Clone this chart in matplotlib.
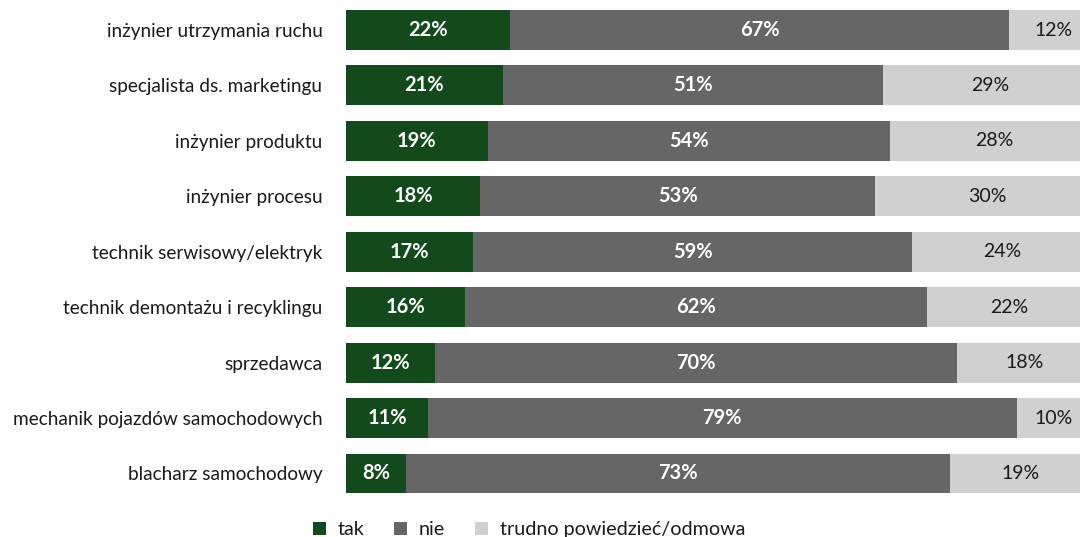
import matplotlib.pyplot as plt
import numpy as np

plt.rcParams["font.family"] = ["Lato", "DejaVu Sans"]

# odsetki odpowiedzi dla poszczególnych zawodów
zawody = [
    "inżynier utrzymania ruchu",
    "specjalista ds. marketingu",
    "inżynier produktu",
    "inżynier procesu",
    "technik serwisowy/elektryk",
    "technik demontażu i recyklingu",
    "sprzedawca",
    "mechanik pojazdów samochodowych",
    "blacharz samochodowy",
]
tak = [22, 21, 19, 18, 17, 16, 12, 11, 8]
nie = [67, 51, 54, 53, 59, 62, 70, 79, 73]
trudno = [12, 29, 28, 30, 24, 22, 18, 10, 19]

serie = ["tak", "nie", "trudno powiedzieć/odmowa"]
kolory = ["#124a1c", "#666666", "#d0d0d0"]

fig = plt.figure(figsize=(10.8, 5.37), dpi=100)
ax = fig.add_axes([0.3204, 0.0667, 0.6796, 0.929])

y = np.arange(len(zawody))
lewo = np.zeros(len(zawody))
for nazwa, wartosci, kolor in zip(serie, [tak, nie, trudno], kolory):
    wartosci = np.array(wartosci, dtype=float)
    ax.barh(y, wartosci, left=lewo, height=0.72, color=kolor, label=nazwa)
    for yi, l, w in zip(y, lewo, wartosci):
        if kolor == kolory[2]:
            ax.text(l + w / 2, yi, f"{int(w)}%", ha="center", va="center",
                    fontsize=14, color="#1a1a1a")
        else:
            ax.text(l + w / 2, yi, f"{int(w)}%", ha="center", va="center",
                    fontsize=14.5, color="white", fontweight="bold")
    lewo += wartosci

ax.set_xlim(0, 98.5)
ax.set_ylim(len(zawody) - 0.5, -0.5)
ax.set_yticks(y)
ax.set_yticklabels(zawody, fontsize=13.7, color="#1a1a1a")
ax.tick_params(axis="y", length=0, pad=17)
ax.set_xticks([])
for s in ax.spines.values():
    s.set_visible(False)

leg = fig.legend(loc="lower center", bbox_to_anchor=(0.49, -0.035), ncol=3,
                 frameon=False, fontsize=14.2, handlelength=0.65,
                 handleheight=0.65, handletextpad=0.6, columnspacing=1.5)
for t in leg.get_texts():
    t.set_color("#1a1a1a")

fig.savefig("out.png", dpi=100)
